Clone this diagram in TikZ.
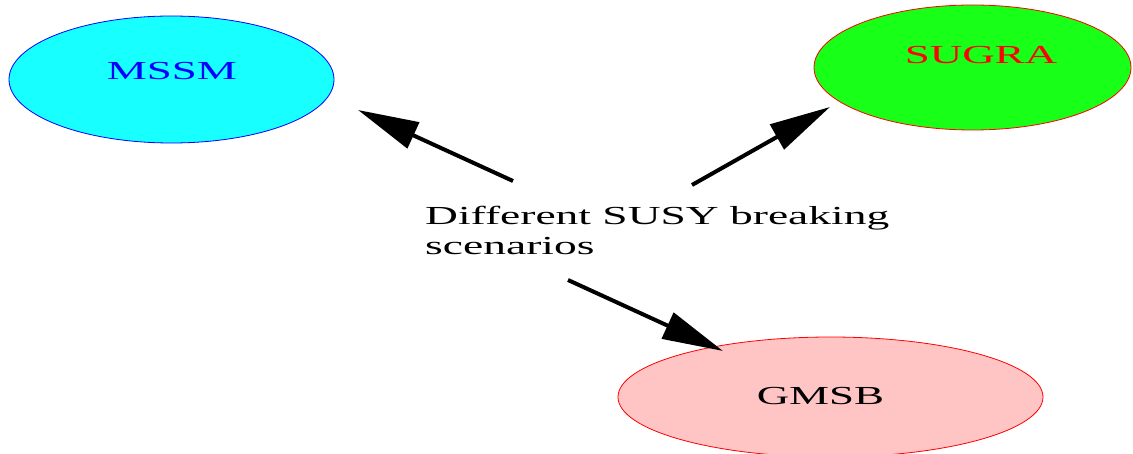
\documentclass[tikz,border=0pt]{standalone}
\usepackage{fontspec}
\setmainfont{Liberation Serif}
\usetikzlibrary{shapes.geometric,arrows.meta,calc}

\definecolor{fillcyan}{RGB}{24,255,255}
\definecolor{fillgreen}{RGB}{24,255,24}
\definecolor{fillpink}{RGB}{255,197,197}

% wide, flattened lettering used throughout
\newcommand{\widetext}[1]{\scalebox{1.73}[1]{#1}}

\tikzset{
  oval/.style={ellipse, inner sep=0pt, line width=0.8pt},
  word/.style={inner sep=0pt, font=\fontsize{26}{30}\selectfont},
  arr/.style={line width=4pt, -{Triangle[length=61pt,width=28pt]}}
}

\begin{document}
\begin{tikzpicture}[x=1pt,y=-1pt]
\useasboundingbox (0,0) rectangle (1133,454);

% the three scenario ellipses
\node[oval, draw=blue, fill=fillcyan, minimum width=325pt, minimum height=127pt] (mssm) at (171.5,79.5) {};
\node[oval, draw=red, fill=fillgreen, minimum width=317pt, minimum height=125pt] (sugra) at (972.5,67.5) {};
\node[oval, draw=red, fill=fillpink, minimum width=425pt, minimum height=120pt] (gmsb) at (830.5,397) {};

% their names
\node[word, text=blue] (mssmT) at (172,71.5) {\widetext{MSSM}};
\node[word, text=red] (sugraT) at (981,55.5) {\widetext{SUGRA}};
\node[word, text=black] (gmsbT) at (820.5,396) {\widetext{GMSB}};

% central caption
\node[word, anchor=base west] (desc) at (425,225)
  {\scalebox{1.75}[1]{\begin{tabular}[t]{@{}l@{}}Different SUSY breaking\\scenarios\end{tabular}}};

% arrow end points
\coordinate (d1) at ($(desc.base west)+(88,-44)$);
\coordinate (d2) at ($(desc.base west)+(267,-40)$);
\coordinate (d3) at ($(desc.base west)+(143,55)$);
\coordinate (m1) at ($(mssm.center)+(186.5,30.5)$);
\coordinate (s1) at ($(sugra.center)+(-142.5,39.5)$);
\coordinate (g1) at ($(gmsb.center)+(-107.5,-46)$);

\draw[arr] (d1) -- (m1);
\draw[arr] (d2) -- (s1);
\draw[arr] (d3) -- (g1);
\end{tikzpicture}
\end{document}
